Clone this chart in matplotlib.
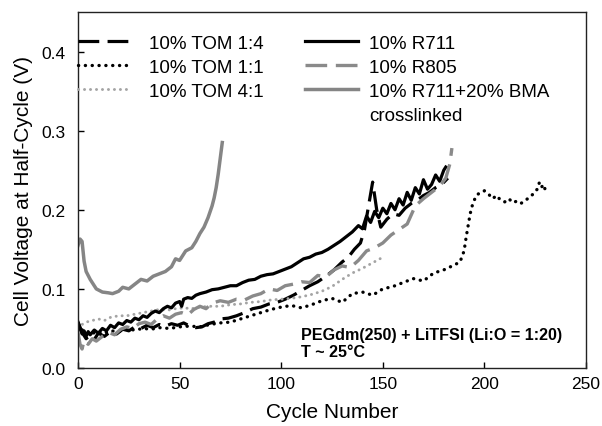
import matplotlib
matplotlib.use("Agg")
import matplotlib.pyplot as plt
from matplotlib.lines import Line2D

plt.rcParams['font.family'] = ['Liberation Sans', 'DejaVu Sans']

# ---- data: cycle number vs. cell voltage at half-cycle (V) ----
tom14_x = [0, 2, 4, 6, 8, 10, 13, 16, 19, 22, 25, 28, 31, 34, 37, 40, 43, 46, 49, 52,
           55, 58, 61, 64, 67, 70, 74, 78, 82, 86, 90, 94, 98, 102, 106, 110, 114, 118, 122, 126,
           130, 133, 136, 139, 141, 143, 145, 147, 149, 152, 155, 158, 161, 164, 167, 170, 173, 176, 179, 182]
tom14_y = [0.058, 0.045, 0.037, 0.042, 0.036, 0.044, 0.040, 0.046, 0.043, 0.049,
           0.047, 0.052, 0.050, 0.054, 0.051, 0.055, 0.053, 0.056, 0.054, 0.057,
           0.053, 0.051, 0.052, 0.056, 0.058, 0.062, 0.063, 0.066, 0.070, 0.075,
           0.077, 0.081, 0.083, 0.087, 0.092, 0.098, 0.104, 0.109, 0.116, 0.124,
           0.134, 0.140, 0.150, 0.158, 0.175, 0.205, 0.235, 0.200, 0.178, 0.188,
           0.195, 0.193, 0.202, 0.208, 0.212, 0.218, 0.222, 0.228, 0.232, 0.240]

tom11_x = [0, 3, 6, 9, 12, 16, 20, 24, 28, 32, 36, 40, 45, 50, 55, 60, 65, 70, 75, 80,
           85, 90, 95, 100, 105, 110, 115, 120, 125, 130, 135, 140, 145, 150, 155, 160, 165, 170, 175, 180,
           185, 188, 190, 191, 192, 193, 194, 195, 196, 198, 200, 202, 204, 206, 208, 210, 212, 214, 216, 218,
           220, 222, 224, 226, 227, 228, 229, 230]
tom11_y = [0.055, 0.045, 0.042, 0.046, 0.043, 0.047, 0.046, 0.049, 0.048, 0.050,
           0.049, 0.051, 0.050, 0.052, 0.053, 0.052, 0.055, 0.057, 0.058, 0.062,
           0.066, 0.070, 0.074, 0.077, 0.079, 0.076, 0.080, 0.085, 0.088, 0.083,
           0.094, 0.096, 0.092, 0.100, 0.103, 0.108, 0.113, 0.110, 0.120, 0.124,
           0.130, 0.134, 0.148, 0.165, 0.180, 0.195, 0.205, 0.212, 0.218, 0.222,
           0.224, 0.220, 0.214, 0.218, 0.212, 0.210, 0.214, 0.209, 0.211, 0.208,
           0.212, 0.215, 0.220, 0.226, 0.234, 0.228, 0.232, 0.225]

tom41_x = [0, 2, 4, 7, 10, 13, 16, 20, 24, 28, 32, 36, 40, 44, 48, 52, 56, 60, 65, 70,
           75, 80, 85, 90, 95, 100, 105, 110, 115, 120, 125, 130, 135, 140, 145, 150]
tom41_y = [0.050, 0.055, 0.058, 0.060, 0.062, 0.060, 0.064, 0.066, 0.066, 0.068,
           0.070, 0.072, 0.074, 0.073, 0.075, 0.076, 0.075, 0.077, 0.078, 0.078,
           0.080, 0.081, 0.083, 0.084, 0.086, 0.087, 0.088, 0.090, 0.093, 0.097,
           0.103, 0.112, 0.120, 0.126, 0.133, 0.140]

r711_x = [0, 1, 2, 3, 4, 5, 6, 8, 10, 12, 14, 16, 18, 20, 22, 24, 26, 28, 30, 32,
          34, 36, 38, 40, 42, 44, 46, 48, 50, 51, 52, 54, 56, 58, 60, 63, 66, 69, 72, 75,
          78, 81, 84, 87, 90, 93, 96, 99, 102, 105, 108, 111, 114, 117, 120, 123, 126, 129, 132, 135,
          138, 140, 142, 144, 146, 148, 150, 152, 154, 156, 158, 160, 162, 164, 166, 168, 170, 172, 174, 176,
          178, 180, 181]
r711_y = [0.058, 0.050, 0.043, 0.047, 0.040, 0.046, 0.042, 0.048, 0.044, 0.050,
          0.047, 0.054, 0.051, 0.057, 0.055, 0.060, 0.058, 0.063, 0.061, 0.066,
          0.064, 0.069, 0.072, 0.070, 0.075, 0.078, 0.076, 0.082, 0.084, 0.078,
          0.087, 0.089, 0.088, 0.092, 0.094, 0.096, 0.099, 0.100, 0.102, 0.104,
          0.104, 0.108, 0.111, 0.112, 0.116, 0.118, 0.119, 0.122, 0.125, 0.128,
          0.133, 0.138, 0.140, 0.144, 0.146, 0.150, 0.155, 0.160, 0.166, 0.172,
          0.180, 0.176, 0.192, 0.184, 0.198, 0.190, 0.202, 0.195, 0.208, 0.200,
          0.214, 0.206, 0.222, 0.212, 0.228, 0.220, 0.238, 0.226, 0.232, 0.244,
          0.236, 0.250, 0.254]

r805_x = [0, 1, 2, 3, 5, 7, 9, 12, 15, 18, 21, 24, 27, 30, 33, 36, 39, 42, 45, 48,
          51, 54, 57, 60, 63, 66, 70, 74, 78, 82, 86, 90, 94, 98, 102, 106, 110, 114, 118, 122,
          126, 130, 134, 138, 142, 146, 150, 154, 158, 162, 166, 170, 174, 178, 181, 183, 184]
r805_y = [0.045, 0.030, 0.024, 0.035, 0.030, 0.037, 0.034, 0.040, 0.045, 0.042,
          0.049, 0.052, 0.050, 0.056, 0.058, 0.055, 0.062, 0.066, 0.063, 0.068,
          0.070, 0.067, 0.074, 0.078, 0.075, 0.082, 0.085, 0.083, 0.087, 0.086,
          0.091, 0.094, 0.100, 0.098, 0.104, 0.106, 0.109, 0.108, 0.117, 0.115,
          0.124, 0.129, 0.127, 0.136, 0.148, 0.152, 0.158, 0.168, 0.175, 0.182,
          0.205, 0.214, 0.222, 0.230, 0.240, 0.258, 0.278]

bma_x = [0, 1, 2, 3, 4, 6, 9, 12, 15, 17, 20, 22, 25, 28, 31, 34, 37, 40, 43, 46,
         48, 50, 53, 56, 58, 60, 62, 64, 66, 67, 68, 69, 70, 71]
bma_y = [0.155, 0.163, 0.160, 0.135, 0.122, 0.112, 0.100, 0.096, 0.095, 0.094,
         0.097, 0.102, 0.100, 0.106, 0.112, 0.110, 0.116, 0.119, 0.122, 0.128,
         0.138, 0.136, 0.148, 0.152, 0.160, 0.170, 0.178, 0.190, 0.205, 0.215,
         0.228, 0.245, 0.265, 0.285]

labels_left = ['10% TOM 1:4', '10% TOM 1:1', '10% TOM 4:1']
labels_right = ['10% R711', '10% R805', '10% R711+20% BMA', 'crosslinked']

x_ticks = [0, 50, 100, 150, 200, 250]
y_ticks = [0.0, 0.1, 0.2, 0.3, 0.4]

# ---- figure ----
fig = plt.figure(figsize=(6.02, 4.27), dpi=100)
ax = fig.add_axes([78 / 602, 1 - 369 / 427, (586 - 78) / 602, (369 - 13) / 427])

dash_long = (0, (6.5, 2.6))
dots = (0, (0.05, 2.0))

l1, = ax.plot(tom14_x, tom14_y, color='black', lw=2.3, linestyle=dash_long)
l2, = ax.plot(tom11_x, tom11_y, color='black', lw=2.4, linestyle=dots,
              dash_capstyle='round')
l3, = ax.plot(tom41_x, tom41_y, color='#a4a4a4', lw=2.1, linestyle=dots,
              dash_capstyle='round')
l4, = ax.plot(r711_x, r711_y, color='black', lw=2.3, solid_joinstyle='round')
l5, = ax.plot(r805_x, r805_y, color='#8a8a8a', lw=2.4, linestyle=dash_long)
l6, = ax.plot(bma_x, bma_y, color='#858585', lw=2.5, solid_joinstyle='round')

ax.set_xlim(0, 250)
ax.set_ylim(0, 0.45)
ax.set_xticks(x_ticks)
ax.set_yticks(y_ticks)
ax.set_yticklabels([f'{v:.1f}' for v in y_ticks])
ax.tick_params(direction='in', length=4, width=1, labelsize=12.5)
ax.tick_params(axis='y', pad=9)
ax.tick_params(axis='x', pad=6)
for s in ax.spines.values():
    s.set_linewidth(1.0)
    s.set_color('#222222')

ax.set_xlabel('Cycle Number', fontsize=15, labelpad=8)
ax.set_ylabel('Cell Voltage at Half-Cycle (V)', fontsize=15, labelpad=6)

leg1 = ax.legend([l1, l2, l3], labels_left, loc='upper left',
                 bbox_to_anchor=(0.0, 0.937), frameon=False, fontsize=13.5,
                 handlelength=2.7, handletextpad=1.1, labelspacing=0.37,
                 borderpad=0, borderaxespad=0)
ax.add_artist(leg1)
blank = Line2D([], [], color='none')
ax.legend([l4, l5, l6, blank], labels_right, loc='upper left',
          bbox_to_anchor=(0.447, 0.937), frameon=False, fontsize=13.5,
          handlelength=2.8, handletextpad=0.62, labelspacing=0.37,
          borderpad=0, borderaxespad=0)

ax.text(109.5, 0.042, 'PEGdm(250) + LiTFSI (Li:O = 1:20)', fontsize=11.6,
        fontweight='bold', va='center', ha='left')
ax.text(109.5, 0.0205, 'T ~ 25°C', fontsize=11.6, fontweight='bold',
        va='center', ha='left')

fig.savefig('out.png', dpi=100)
